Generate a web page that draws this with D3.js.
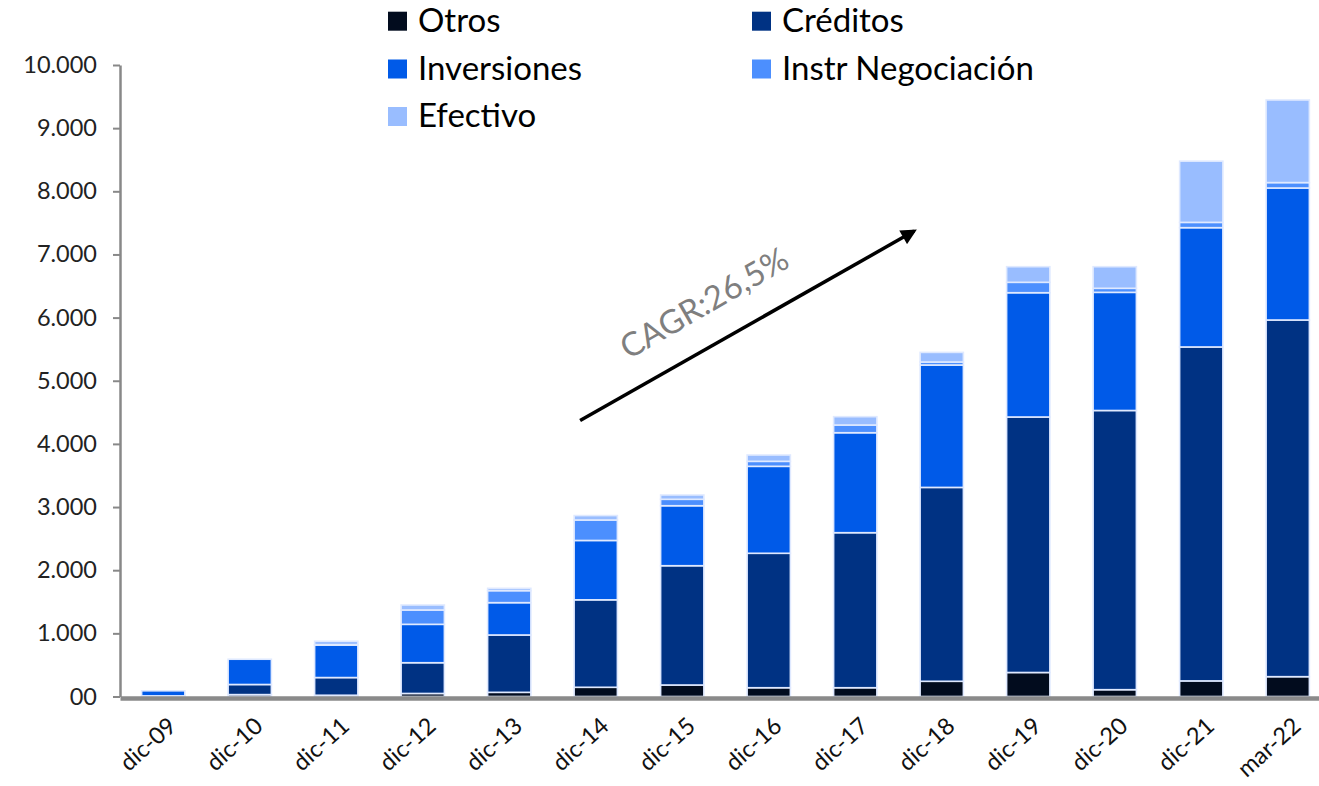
<!DOCTYPE html>
<html>
<head>
<meta charset="utf-8">
<script src="https://cdn.jsdelivr.net/npm/d3@7"></script>
<style>
  html, body { margin: 0; padding: 0; background: #fff; }
  svg { display: block; font-family: Lato, "Open Sans", sans-serif; }
</style>
</head>
<body>
<div id="chart"></div>
<script>
// categories and series
var categories = ['dic-09', 'dic-10', 'dic-11', 'dic-12', 'dic-13', 'dic-14', 'dic-15',
  'dic-16', 'dic-17', 'dic-18', 'dic-19', 'dic-20', 'dic-21', 'mar-22'];
var otros = [0, 30, 20, 48, 66, 146, 182, 139, 139, 241, 380, 108, 247, 314];
var creditos = [10, 160, 280, 487, 908, 1385, 1889, 2129, 2455, 3070, 4046, 4421, 5288, 5648];
var inversiones = [80, 400, 515, 608, 512, 940, 950, 1377, 1583, 1938, 1968, 1871, 1889, 2090];
var instrNegociacion = [0, 0, 5, 227, 190, 324, 102, 79, 122, 48, 165, 64, 84, 86];
var efectivo = [0, 0, 55, 79, 37, 70, 68, 100, 132, 152, 247, 342, 969, 1308];

var seriesNames = ['Otros', 'Créditos', 'Inversiones', 'Instr Negociación', 'Efectivo'];
var seriesColors = ['#020c1e', '#003283', '#005ae8', '#4c8ffe', '#99bdff'];

var yTickValues = [0, 1000, 2000, 3000, 4000, 5000, 6000, 7000, 8000, 9000, 10000];
var yTickLabels = ['00', '1.000', '2.000', '3.000', '4.000', '5.000', '6.000', '7.000', '8.000', '9.000', '10.000'];

var cagrLabel = 'CAGR:26,5%';

// Constants for sizing
var width = 1319;
var height = 786;

// build the table d3.stack wants
var table = categories.map(function (c, i) {
  return {
    cat: c,
    'Otros': otros[i],
    'Créditos': creditos[i],
    'Inversiones': inversiones[i],
    'Instr Negociación': instrNegociacion[i],
    'Efectivo': efectivo[i]
  };
});

var svg = d3.select('#chart').append('svg')
  .attr('width', width)
  .attr('height', height);

var x = d3.scaleBand()
  .domain(categories)
  .range([120, 1331])
  .paddingInner(0.5)
  .paddingOuter(0.25);

var y = d3.scaleLinear()
  .domain([0, 10000])
  .range([696.5, 65]);

var color = d3.scaleOrdinal().domain(seriesNames).range(seriesColors);

var stacked = d3.stack().keys(seriesNames)(table);

// bars
svg.append('g')
  .selectAll('g')
  .data(stacked)
  .join('g')
  .attr('fill', function (d) { return color(d.key); })
  .selectAll('rect')
  .data(function (d) { return d; })
  .join('rect')
  .attr('x', function (d) { return x(d.data.cat); })
  .attr('width', x.bandwidth())
  .attr('y', function (d) { return y(d[1]); })
  .attr('height', function (d) { return Math.max(0, y(d[0]) - y(d[1])); })
  .attr('stroke', '#dfe9ff')
  .attr('stroke-width', 1.6);

// y axis
var yAxis = svg.append('g')
  .attr('transform', 'translate(120,0)')
  .call(d3.axisLeft(y)
    .tickValues(yTickValues)
    .tickFormat(function (d, i) { return yTickLabels[i]; })
    .tickSize(7)
    .tickSizeOuter(0)
    .tickPadding(16));

yAxis.select('.domain').attr('stroke', '#888').attr('stroke-width', 2.5);
yAxis.selectAll('.tick line').attr('stroke', '#888').attr('stroke-width', 2);
yAxis.selectAll('.tick text')
  .attr('fill', '#222')
  .style('font-size', '23.5px')
  .style('font-family', 'Lato, sans-serif');

// x axis
var xAxis = svg.append('g')
  .attr('transform', 'translate(0,698)')
  .call(d3.axisBottom(x).tickSize(0).tickSizeOuter(0));

xAxis.select('.domain').attr('stroke', '#8a8a8a').attr('stroke-width', 4.5);
xAxis.selectAll('.tick text')
  .attr('x', 0)
  .attr('y', 0)
  .attr('dy', '0.35em')
  .attr('text-anchor', 'end')
  .attr('transform', 'translate(9,24) rotate(-42)')
  .attr('fill', '#111')
  .style('font-size', '23.5px')
  .style('font-family', 'Lato, sans-serif');

// growth arrow
var defs = svg.append('defs');
defs.append('marker')
  .attr('id', 'arrowhead')
  .attr('viewBox', '0 0 10 10')
  .attr('refX', 8)
  .attr('refY', 5)
  .attr('markerWidth', 5)
  .attr('markerHeight', 4.5)
  .attr('markerUnits', 'strokeWidth')
  .attr('orient', 'auto')
  .append('path')
  .attr('d', 'M0,0 L10,5 L0,10 z')
  .attr('fill', '#000');

var ax1 = x('dic-14') + 6, ay1 = y(4370);
var ax2 = x('dic-18') - 6, ay2 = y(7370);

svg.append('line')
  .attr('x1', ax1).attr('y1', ay1)
  .attr('x2', ax2).attr('y2', ay2)
  .attr('stroke', '#000')
  .attr('stroke-width', 3.5)
  .attr('marker-end', 'url(#arrowhead)');

svg.append('text')
  .attr('transform', 'translate(710,313) rotate(-30)')
  .attr('text-anchor', 'middle')
  .attr('fill', '#7f7f7f')
  .style('font-size', '33px')
  .text(cagrLabel);

// legend
var legendCols = [388, 752];
var legendRows = [31.7, 79.5, 127];
var legend = svg.append('g')
  .selectAll('g')
  .data(seriesNames)
  .join('g')
  .attr('transform', function (d, i) {
    return 'translate(' + legendCols[i % 2] + ',' + legendRows[Math.floor(i / 2)] + ')';
  });

legend.append('rect')
  .attr('x', 0)
  .attr('y', -20)
  .attr('width', 19)
  .attr('height', 19)
  .attr('fill', function (d) { return color(d); });

legend.append('text')
  .attr('x', 30)
  .attr('y', 0)
  .attr('fill', '#000')
  .style('font-size', '33px')
  .text(function (d) { return d; });
</script>
</body>
</html>
